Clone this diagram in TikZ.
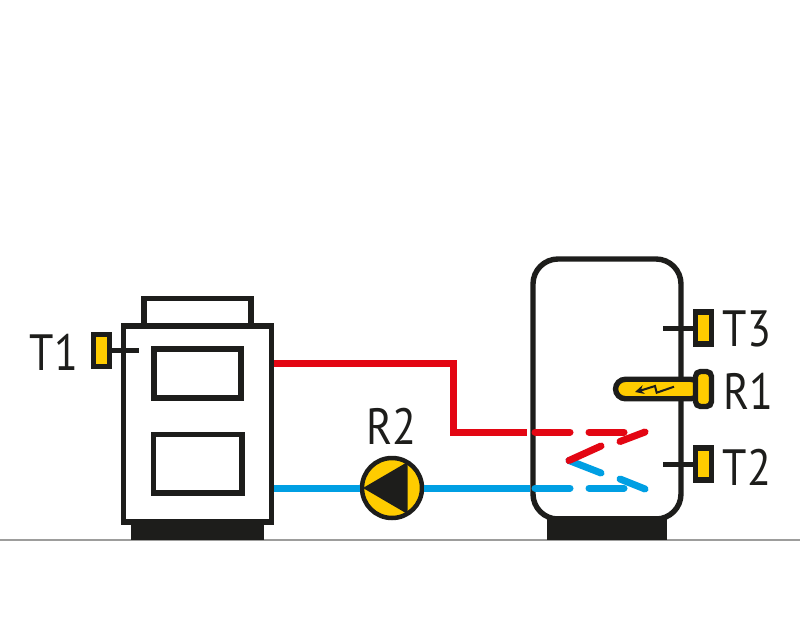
\documentclass[tikz,border=0pt]{standalone}
\usepackage{fontspec}
\setmainfont{PT Sans}
\usetikzlibrary{arrows.meta}
\definecolor{ink}{HTML}{1D1D1B}
\definecolor{hot}{HTML}{E30613}
\definecolor{cold}{HTML}{009FE3}
\definecolor{amber}{HTML}{FFCC00}
\definecolor{floorgray}{HTML}{9D9D9C}
\newcommand{\tag}[1]{\scalebox{.86}[1]{\fontsize{51}{51}\selectfont #1}}
\begin{document}
\begin{tikzpicture}[x=1pt,y=-1pt]
\tikzstyle{box}=[draw=ink, line width=5.4pt, rectangle, inner sep=0pt, fill=white]
\tikzstyle{plinth}=[fill=ink, rectangle, inner sep=0pt]
\tikzstyle{sensor}=[draw=ink, fill=amber, line width=5.4pt, rectangle, inner sep=0pt, minimum width=16pt, minimum height=32pt]
\tikzstyle{stem}=[draw=ink, line width=5pt]
\tikzstyle{hotpipe}=[draw=hot, line width=7pt]
\tikzstyle{coldpipe}=[draw=cold, line width=7pt]
\tikzstyle{hotdash}=[hotpipe, line cap=round]
\tikzstyle{colddash}=[coldpipe, line cap=round]
\tikzstyle{tag}=[inner sep=0pt, text=ink]
\useasboundingbox (0,0) rectangle (800,640);

\coordinate (floorl) at (0,540);
\coordinate (floorr) at (800,540);
\draw[floorgray, line width=1.5pt] (floorl) -- (floorr);

% boiler
\draw (197.5,312) node[box, minimum width=107pt, minimum height=27pt] (cap) {};
\draw (197.5,424) node[box, minimum width=148pt, minimum height=196pt] (boiler) {};
\draw (197.5,373.5) node[box, minimum width=87pt, minimum height=49pt] (door1) {};
\draw (197.75,463.75) node[box, minimum width=88.5pt, minimum height=58.5pt] (door2) {};
\draw (197.5,530) node[plinth, minimum width=133.5pt, minimum height=20pt] (boilerbase) {};

% tank
\draw (607,389) node[box, rounded corners=25pt, minimum width=148pt, minimum height=260pt] (tank) {};
\draw (606.7,528) node[plinth, minimum width=120pt, minimum height=24pt] (tankbase) {};

% pipes
\coordinate (hotout) at (274,363.5);
\coordinate (hotbend1) at (453,363.5);
\coordinate (hotbend2) at (453,432);
\coordinate (hotin) at (527,432);
\coordinate (coldout) at (274,488);
\coordinate (coldin) at (530,488);
\draw[hotpipe] (hotout) -- (hotbend1) -- (hotbend2) -- (hotin);
\draw (392,488) node[circle, draw=ink, fill=amber, line width=4.5pt, minimum size=60pt, inner sep=0pt] (pump) {};
\draw[coldpipe] (coldout) -- (pump);
\draw[coldpipe] (pump) -- (coldin);
\fill[ink] (363,488) -- (407.5,462) -- (407.5,514) -- cycle;

% coil
\coordinate (h1) at (535,432);
\coordinate (h2) at (570,432);
\coordinate (h3) at (589,432);
\coordinate (h4) at (624,432);
\coordinate (h5) at (620,441.5);
\coordinate (h6) at (645,432);
\coordinate (h7) at (601,446);
\coordinate (v) at (569,460.5);
\coordinate (c1) at (601,473);
\coordinate (c2) at (620,479);
\coordinate (c3) at (645,489);
\coordinate (c4) at (535,488);
\coordinate (c5) at (570,488);
\coordinate (c6) at (589,488);
\coordinate (c7) at (624,488);
\draw[colddash] (v) -- (c1);
\draw[colddash] (c2) -- (c3);
\draw[colddash] (c4) -- (c5);
\draw[colddash] (c6) -- (c7);
\draw[hotdash] (h1) -- (h2);
\draw[hotdash] (h3) -- (h4);
\draw[hotdash] (h5) -- (h6);
\draw[hotdash] (h7) -- (v);

% sensors
\draw (101.5,350.5) node[sensor] (s1) {};
\draw (703.5,328) node[sensor] (s3) {};
\draw (703.5,464) node[sensor] (s2) {};
\coordinate (s1end) at (139,350.5);
\coordinate (s3end) at (663,328);
\coordinate (s2end) at (663,464);
\draw[stem] (s1) -- (s1end);
\draw[stem] (s3) -- (s3end);
\draw[stem] (s2) -- (s2end);

% heater
\draw (658,389) node[draw=ink, fill=amber, line width=5.4pt, rectangle, rounded corners=10pt, inner sep=0pt, minimum width=85pt, minimum height=19.5pt] (heater) {};
\draw (703.5,389) node[sensor, rounded corners=5pt, minimum height=35pt] (heaterhead) {};
\draw[ink, line width=2pt, -{Stealth[length=9pt,width=9pt]}] (674,386.7) -- (656.7,392.7) -- (655,386) -- (644,389.5) -- (635,392);

% labels
\draw (54,352.5) node[tag] (t1) {\tag{T1}};
\draw (391,426.5) node[tag] (r2) {\tag{R2}};
\draw (747,329) node[tag] (t3) {\tag{T3}};
\draw (748,391.5) node[tag] (r1) {\tag{R1}};
\draw (747,467) node[tag] (t2) {\tag{T2}};
\end{tikzpicture}
\end{document}
